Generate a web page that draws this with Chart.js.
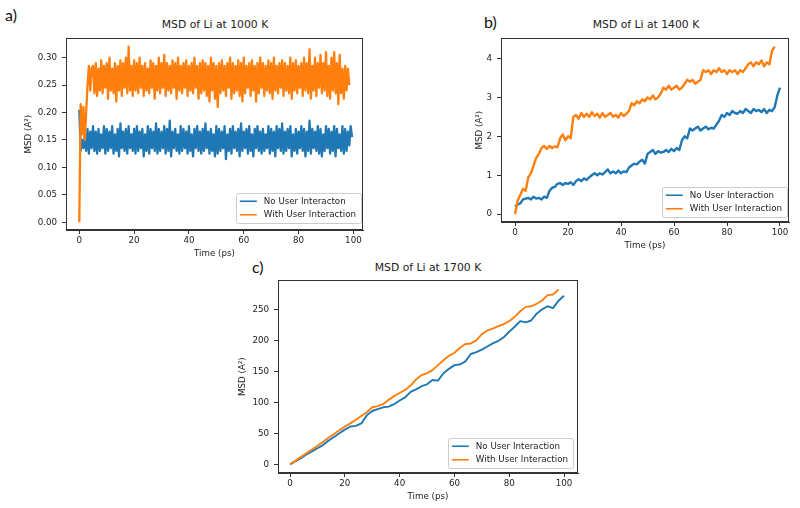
<!DOCTYPE html>
<html>
<head>
<meta charset="utf-8">
<script src="https://cdn.jsdelivr.net/npm/chart.js@4.4.0/dist/chart.umd.min.js"></script>
<style>
  body { margin: 0; background: #fff; width: 800px; height: 508px; position: relative; overflow: hidden;
         font-family: "DejaVu Sans", sans-serif; color: #222; }
  .panel { position: absolute; }
  .tag { position: absolute; font-family: Lato, "Open Sans", sans-serif; font-size: 16px; color: #111; line-height: 1; }
  .title { position: absolute; font-size: 10.8px; white-space: nowrap; transform: translate(-50%, -50%); }
</style>
</head>
<body>
<div class="tag" style="left:5px;top:7px">a)</div>
<div class="tag" style="left:484px;top:14px">b)</div>
<div class="tag" style="left:252px;top:259px">c)</div>
<div class="title" style="left:215px;top:24px">MSD of Li at 1000 K</div>
<div class="title" style="left:646px;top:24px">MSD of Li at 1400 K</div>
<div class="title" style="left:428px;top:267px">MSD of Li at 1700 K</div>

<canvas id="chartA" class="panel" width="370" height="240" style="left:0px;top:28px"></canvas>
<canvas id="chartB" class="panel" width="366" height="232" style="left:430px;top:28px"></canvas>
<canvas id="chartC" class="panel" width="375" height="238" style="left:210px;top:270px"></canvas>

<script>
// a) 1000 K: samples at whole ps (peaks) and at half ps (troughs)
const aBluePeaks = [
  0.205,0.15,0.16,0.17,0.165,0.175,0.165,0.17,0.16,0.175,
  0.17,0.165,0.175,0.16,0.17,0.18,0.165,0.17,0.175,0.16,
  0.17,0.175,0.165,0.17,0.16,0.175,0.17,0.165,0.18,0.17,
  0.165,0.175,0.17,0.185,0.165,0.17,0.16,0.175,0.17,0.165,
  0.175,0.16,0.17,0.175,0.165,0.17,0.18,0.165,0.17,0.16,
  0.175,0.17,0.165,0.175,0.16,0.17,0.175,0.165,0.17,0.18,
  0.165,0.17,0.175,0.16,0.17,0.175,0.165,0.17,0.16,0.175,
  0.17,0.165,0.175,0.17,0.18,0.165,0.17,0.175,0.16,0.17,
  0.165,0.175,0.17,0.165,0.185,0.17,0.165,0.175,0.17,0.16,
  0.175,0.17,0.165,0.175,0.17,0.16,0.175,0.17,0.165,0.175
];
const aBlueTroughs = [
  0.13,0.135,0.13,0.125,0.135,0.13,0.125,0.13,0.135,0.125,
  0.13,0.135,0.125,0.13,0.12,0.135,0.13,0.125,0.135,0.13,
  0.125,0.13,0.135,0.12,0.13,0.125,0.135,0.13,0.125,0.13,
  0.135,0.125,0.13,0.12,0.135,0.13,0.125,0.13,0.135,0.125,
  0.13,0.12,0.135,0.13,0.125,0.13,0.135,0.125,0.13,0.12,
  0.125,0.13,0.135,0.115,0.13,0.125,0.135,0.13,0.12,0.13,
  0.135,0.125,0.13,0.12,0.135,0.13,0.125,0.13,0.135,0.125,
  0.13,0.12,0.135,0.13,0.125,0.13,0.135,0.12,0.13,0.125,
  0.135,0.13,0.12,0.13,0.125,0.135,0.13,0.125,0.12,0.13,
  0.135,0.125,0.13,0.12,0.135,0.13,0.125,0.13,0.14,0.155
];
const aOrangePeaks = [
  0.00,0.16,0.15,0.25,0.24,0.285,0.29,0.28,0.295,0.285,
  0.29,0.30,0.28,0.29,0.285,0.295,0.29,0.30,0.32,0.285,
  0.295,0.29,0.30,0.285,0.29,0.28,0.295,0.29,0.285,0.30,
  0.29,0.305,0.29,0.285,0.295,0.29,0.30,0.285,0.29,0.295,
  0.285,0.29,0.30,0.285,0.29,0.295,0.29,0.285,0.30,0.29,
  0.285,0.29,0.295,0.285,0.29,0.30,0.29,0.285,0.295,0.29,
  0.30,0.285,0.29,0.295,0.285,0.29,0.30,0.29,0.285,0.295,
  0.29,0.30,0.285,0.29,0.295,0.29,0.285,0.30,0.29,0.295,
  0.285,0.29,0.30,0.29,0.315,0.285,0.30,0.29,0.305,0.29,
  0.31,0.285,0.30,0.31,0.29,0.305,0.28,0.285,0.28
];
const aOrangeTroughs = [
  0.215,0.21,0.20,0.285,0.28,0.235,0.23,0.24,0.235,0.245,
  0.225,0.24,0.235,0.22,0.24,0.23,0.245,0.235,0.24,0.23,
  0.24,0.235,0.245,0.23,0.24,0.235,0.245,0.225,0.24,0.235,
  0.245,0.23,0.24,0.235,0.245,0.225,0.24,0.235,0.245,0.23,
  0.24,0.235,0.245,0.225,0.235,0.24,0.23,0.22,0.24,0.225,
  0.21,0.235,0.24,0.23,0.245,0.225,0.235,0.24,0.23,0.22,
  0.235,0.245,0.23,0.24,0.22,0.235,0.245,0.23,0.24,0.235,
  0.225,0.24,0.235,0.245,0.23,0.24,0.235,0.225,0.24,0.235,
  0.245,0.23,0.24,0.235,0.225,0.24,0.23,0.245,0.235,0.24,
  0.23,0.225,0.24,0.235,0.215,0.235,0.225,0.24,0.25
];

// b) 1400 K: one sample per ps
const bBlue = [
  0.2,0.25,0.28,0.38,0.4,0.42,0.38,0.45,0.4,0.42,
  0.38,0.45,0.42,0.6,0.68,0.7,0.78,0.8,0.75,0.8,
  0.78,0.82,0.75,0.85,0.9,0.85,0.92,0.88,0.95,1.0,
  1.05,1.0,1.05,1.02,1.08,1.15,1.05,1.1,1.05,1.12,
  1.05,1.1,1.08,1.2,1.25,1.3,1.28,1.35,1.4,1.3,
  1.55,1.6,1.65,1.55,1.62,1.58,1.6,1.65,1.6,1.68,
  1.62,1.7,1.65,1.9,2.0,1.95,2.2,2.15,2.2,2.25,
  2.15,2.2,2.25,2.18,2.22,2.2,2.3,2.4,2.55,2.5,
  2.6,2.55,2.65,2.6,2.58,2.65,2.6,2.7,2.65,2.6,
  2.7,2.65,2.68,2.62,2.7,2.6,2.68,2.65,2.75,3.05,
  3.25
];
const bOrange = [
  0.0,0.35,0.5,0.65,0.6,0.95,1.05,1.25,1.45,1.55,
  1.7,1.75,1.68,1.75,1.7,1.74,1.72,1.95,2.05,1.9,
  2.0,1.95,2.5,2.55,2.45,2.6,2.5,2.58,2.5,2.62,
  2.52,2.58,2.48,2.6,2.5,2.55,2.6,2.5,2.55,2.48,
  2.6,2.52,2.58,2.65,2.85,2.8,2.9,2.85,2.95,2.9,
  3.0,2.95,3.05,2.95,3.0,3.1,3.25,3.2,3.3,3.2,
  3.25,3.3,3.2,3.25,3.35,3.45,3.4,3.45,3.35,3.4,
  3.45,3.7,3.65,3.7,3.6,3.7,3.65,3.75,3.65,3.7,
  3.6,3.7,3.65,3.7,3.6,3.7,3.65,3.75,3.85,3.9,
  3.8,3.9,3.85,3.95,3.8,3.9,3.85,4.2,4.3
];

// c) 1700 K: one sample every 2 ps
const cBlue = [
  0,5,10,16,21,26,31,38,44,50,
  56,61,62,66,79,86,89,92,93,97,
  103,108,117,121,126,129,136,135,147,154,
  160,161,166,178,181,185,190,195,199,205,
  214,222,231,229,232,243,250,255,252,264,
  272
];
const cOrange = [
  0,6,12,18,24,30,36,43,49,55,
  61,66,72,78,84,92,94,97,104,110,
  115,120,127,137,144,147,152,160,168,175,
  180,188,194,195,200,210,216,219,223,226,
  231,238,247,254,255,259,264,273,274,282
];

const BLUE = '#1f77b4';
const ORANGE = '#ff7f0e';
const INK = '#222';
const SMALL = { family: 'DejaVu Sans', size: 8.7 };

function zigzag(peaks, troughs) {
  const pts = [];
  peaks.forEach((y, i) => {
    pts.push({ x: i, y: y });
    if (troughs[i] !== undefined) pts.push({ x: i + 0.5, y: troughs[i] });
  });
  return pts;
}
function series(vals, step) {
  return vals.map((y, i) => ({ x: i * step, y: y }));
}

const framePlugin = {
  id: 'frame',
  afterDraw(chart) {
    const { ctx, chartArea: a } = chart;
    ctx.save();
    ctx.strokeStyle = '#333';
    ctx.lineWidth = 1;
    ctx.strokeRect(Math.round(a.left) + 0.5, Math.round(a.top) + 0.5,
                   Math.round(a.right - a.left) - 1, Math.round(a.bottom - a.top) - 1);
    ctx.restore();
  }
};

const boxLegend = {
  id: 'boxLegend',
  afterDraw(chart, args, opts) {
    const { ctx, chartArea: a } = chart;
    const items = chart.data.datasets;
    ctx.save();
    ctx.font = '8.7px "DejaVu Sans"';
    const tw = Math.max(...items.map(d => ctx.measureText(d.label).width));
    const row = 13.5;
    const w = 4 + 17 + 7 + tw + 5;
    const h = items.length * row + 3;
    const x = a.right - opts.right - w;
    const y = a.bottom - opts.bottom - h;
    ctx.fillStyle = 'rgba(255,255,255,0.85)';
    ctx.strokeStyle = '#ccc';
    ctx.lineWidth = 1;
    ctx.beginPath();
    ctx.roundRect(Math.round(x) + 0.5, Math.round(y) + 0.5, Math.round(w), Math.round(h), 2);
    ctx.fill();
    ctx.stroke();
    items.forEach((d, i) => {
      const cy = y + 1.5 + row / 2 + i * row;
      ctx.strokeStyle = d.borderColor;
      ctx.lineWidth = 1.6;
      ctx.beginPath();
      ctx.moveTo(x + 4, cy);
      ctx.lineTo(x + 21, cy);
      ctx.stroke();
      ctx.fillStyle = INK;
      ctx.textBaseline = 'middle';
      ctx.fillText(d.label, x + 28, cy);
    });
    ctx.restore();
  }
};

function makeChart(id, cfg) {
  return new Chart(document.getElementById(id), {
    type: 'line',
    data: {
      datasets: [
        { label: cfg.blueLabel, data: cfg.blue, borderColor: BLUE, borderWidth: cfg.lw, order: 1 },
        { label: 'With User Interaction', data: cfg.orange, borderColor: ORANGE, borderWidth: cfg.lw, order: 0 }
      ]
    },
    options: {
      responsive: false,
      animation: false,
      layout: { padding: { top: 4, right: 7, left: 0, bottom: 0 } },
      elements: { point: { radius: 0 }, line: { tension: 0, borderJoinStyle: 'round' } },
      plugins: {
        legend: { display: false },
        tooltip: { enabled: false },
        boxLegend: { right: cfg.legRight, bottom: cfg.legBottom }
      },
      scales: {
        x: {
          type: 'linear', min: cfg.xMin, max: cfg.xMax,
          afterFit(s) { s.height = cfg.xH; },
          ticks: { stepSize: 20, includeBounds: false, padding: 2, maxRotation: 0, font: SMALL, color: INK },
          grid: { drawOnChartArea: false, tickLength: 4, color: '#333' },
          border: { color: '#333' },
          title: { display: true, text: 'Time (ps)', font: SMALL, color: INK, padding: { top: 0, bottom: cfg.xTitlePad } }
        },
        y: {
          min: cfg.yMin, max: cfg.yMax,
          afterFit(s) { s.width = cfg.yW; },
          ticks: { stepSize: cfg.yStep, includeBounds: false, padding: 5, font: SMALL, color: INK,
                   callback: cfg.yFmt || (v => v) },
          grid: { drawOnChartArea: false, tickLength: 4, color: '#333' },
          border: { color: '#333' },
          title: { display: true, text: 'MSD (A²)', font: SMALL, color: INK, padding: { top: cfg.yTitlePad, bottom: 0 } }
        }
      }
    },
    plugins: [framePlugin, boxLegend]
  });
}

makeChart('chartA', {
  blueLabel: 'No User Interacton',
  blue: zigzag(aBluePeaks, aBlueTroughs),
  orange: zigzag(aOrangePeaks, aOrangeTroughs),
  lw: 2.3,
  xMin: -4.85, xMax: 103.5, xH: 38, xTitlePad: 8.8,
  yMin: -0.0141, yMax: 0.3353, yStep: 0.05, yW: 66, yTitlePad: 23.8,
  yFmt: v => v.toFixed(2),
  legRight: 2, legBottom: 7
});

makeChart('chartB', {
  blueLabel: 'No User Interaction',
  blue: series(bBlue, 1),
  orange: series(bOrange, 1),
  lw: 2.4,
  xMin: -5.3, xMax: 103.4, xH: 38, xTitlePad: 8.8,
  yMin: -0.2, yMax: 4.52, yStep: 1, yW: 71, yTitlePad: 44.8,
  legRight: 2, legBottom: 5
});

makeChart('chartC', {
  blueLabel: 'No User Interaction',
  blue: series(cBlue, 2),
  orange: series(cOrange, 2),
  lw: 1.9,
  xMin: -4.4, xMax: 105.1, xH: 35, xTitlePad: 6.1,
  yMin: -14, yMax: 297, yStep: 50, yW: 68, yTitlePad: 27.3,
  legRight: 5, legBottom: 5
});
</script>
</body>
</html>
